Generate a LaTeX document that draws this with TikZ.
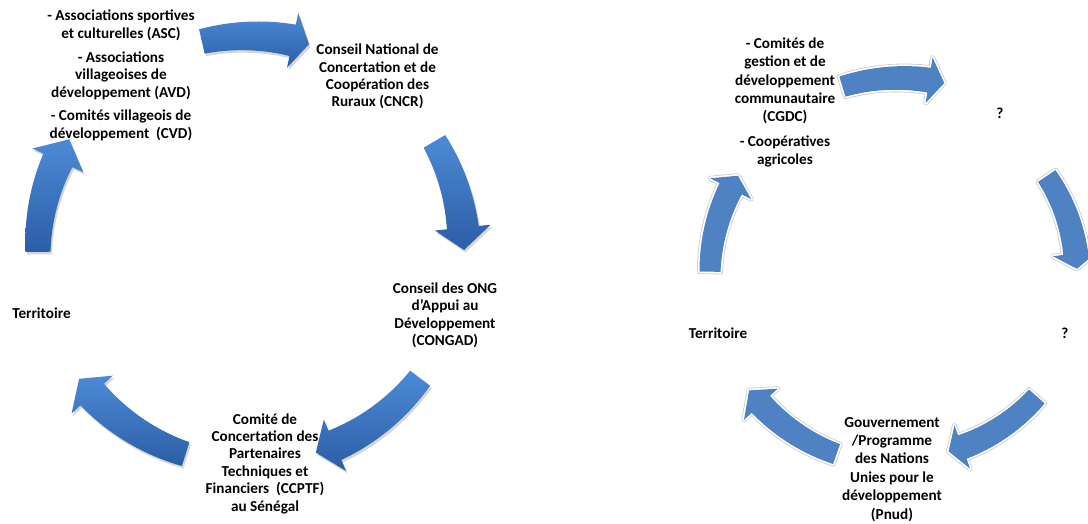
\documentclass[tikz,border=0pt]{standalone}
\usepackage{fontspec}
\setmainfont{Carlito}
\definecolor{lblueA}{HTML}{4D8AD6}
\definecolor{lblueB}{HTML}{2B5EA6}
\definecolor{rblue}{HTML}{4F82C2}
% #1 style, #2 centre, #3 radius, #4 tail angle, #5 tip angle,
% #6 tail half width, #7 half width at head base, #8 head half width, #9 head angular length
\newcommand{\curvedarrow}[9]{%
  \pgfmathsetmacro\cab{#5+#9}%
  \pgfmathsetmacro\ro{#3+#8}%
  \pgfmathsetmacro\ri{#3-#8}%
  \begin{scope}[shift={#2}]
  \path[#1] plot[domain=#4:\cab, samples=30, variable=\t]
      ({(#3+#6+(#7-#6)*(\t-(#4))/(\cab-(#4)))*cos(\t)},
       {(#3+#6+(#7-#6)*(\t-(#4))/(\cab-(#4)))*sin(\t)})
    -- (\cab:\ro) -- (#5:#3) -- (\cab:\ri)
    -- plot[domain=\cab:#4, samples=30, variable=\t]
      ({(#3-#6-(#7-#6)*(\t-(#4))/(\cab-(#4)))*cos(\t)},
       {(#3-#6-(#7-#6)*(\t-(#4))/(\cab-(#4)))*sin(\t)})
    -- cycle;
  \end{scope}}
\tikzset{
  lshade/.style={top color=lblueA, bottom color=lblueB, draw=none},
  lshadow/.style={fill=black, opacity=0.16, draw=none},
  rglowA/.style={draw=black!20, line width=5pt, line join=round},
  rglowB/.style={draw=white, line width=3.4pt, line join=round},
  rfill/.style={fill=rblue, draw=none},
  lbl/.style={align=center, inner sep=0pt,
    font=\bfseries\fontsize{15.2}{17.4}\selectfont},
  lblr/.style={align=center, inner sep=0pt,
    font=\bfseries\fontsize{15.2}{18.4}\selectfont},
}
\newcommand{\leftarrowshape}[5]{%
  \curvedarrow{lshadow}{(251.5,271.5)}{#1}{#2}{#3}{12.5}{16}{28}{#4}%
  \curvedarrow{lshade}{(250,274)}{#1}{#2}{#3}{12.5}{16}{28}{#4}}
\newcommand{\rightarrowshape}[5]{%
  \curvedarrow{rglowA}{(900,249)}{#1}{#2}{#3}{10.5}{12.5}{23}{#4}%
  \curvedarrow{rglowB}{(900,249)}{#1}{#2}{#3}{10.5}{12.5}{23}{#4}%
  \curvedarrow{rfill}{(900,249)}{#1}{#2}{#3}{10.5}{12.5}{23}{#4}}
\begin{document}
\begin{tikzpicture}[x=1pt,y=1pt]
\useasboundingbox (0,0) rectangle (1088,524);
% ---------- left cycle arrows ----------
\leftarrowshape{214}{103}{74}{4.5}{}
\leftarrowshape{214}{30.5}{0}{6}{}
\leftarrowshape{213}{-37}{-72}{5.5}{}
\leftarrowshape{214}{-107.5}{-143}{5.5}{}
\leftarrowshape{212}{180.5}{148.5}{6.5}{}
% ---------- right cycle arrows ----------
\rightarrowshape{197}{107}{77}{4.5}{}
\rightarrowshape{177}{34}{2}{5}{}
\rightarrowshape{183}{-41.6}{-74.6}{4.5}{}
\rightarrowshape{190}{-109.5}{-142.6}{5.5}{}
\rightarrowshape{190}{179}{148.5}{4.5}{}
% ---------- left cycle labels ----------
\node[lbl] (asc) at (121,448.5) {- Associations sportives\\et culturelles (ASC)\\[6.5pt]
  - Associations\\villageoises de\\développement (AVD)\\[6.5pt]
  - Comités villageois de\\développement~ (CVD)};
\node[lbl] (cncr) at (377.5,447.3) {Conseil National de\\Concertation et de\\Coopération des\\Ruraux (CNCR)};
\node[lbl] (congad) at (445,208.5) {Conseil des ONG\\d’Appui au\\Développement\\(CONGAD)};
\node[lbl] (ccptf) at (265,60.5) {Comité de\\Concertation des\\Partenaires\\Techniques et\\Financiers~ (CCPTF)\\au Sénégal};
\node[lbl] (terrL) at (41.5,211) {Territoire};
% ---------- right cycle labels ----------
\node[lblr] (cgdc) at (785,421.5) {- Comités de\\gestion et de\\développement\\communautaire\\(CGDC)\\[6pt]- Coopératives\\agricoles};
\node[lblr] (q1) at (1000,411) {?};
\node[lblr] (q2) at (1065,191) {?};
\node[lblr] (terrR) at (718,191) {Territoire};
\node[lblr] (gouv) at (892,54.8) {Gouvernement\\/Programme\\des Nations\\Unies pour le\\développement\\(Pnud)};
\end{tikzpicture}
\end{document}
